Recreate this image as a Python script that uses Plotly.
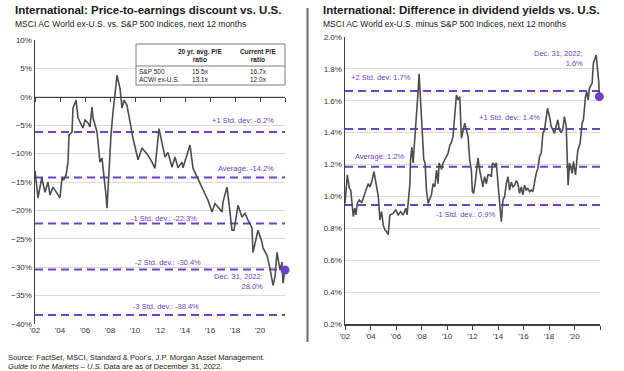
import plotly.graph_objects as go

# ---------------- data ----------------
tick_years = [2002, 2004, 2006, 2008, 2010, 2012, 2014, 2016, 2018, 2020, 2022]
tick_labels = ["'02", "'04", "'06", "'08", "'10", "'12", "'14", "'16", "'18", "'20", ""]

pe_x = [2002.0, 2002.14, 2002.24, 2002.54, 2002.8, 2003.04, 2003.2, 2003.44, 2003.76, 2004.0,
        2004.16, 2004.3, 2004.48, 2004.64, 2004.72, 2004.96, 2005.04, 2005.28, 2005.44, 2005.6,
        2005.84, 2006.0, 2006.24, 2006.4, 2006.56, 2006.64, 2006.96, 2007.04, 2007.2, 2007.36,
        2007.52, 2007.68, 2007.76, 2007.92, 2008.08, 2008.24, 2008.56, 2008.8, 2008.96, 2009.12,
        2009.36, 2009.6, 2009.84, 2010.16, 2010.24, 2010.56, 2010.8, 2011.04, 2011.36, 2011.6,
        2011.92, 2012.16, 2012.4, 2012.64, 2012.96, 2013.2, 2013.44, 2013.76, 2013.84, 2014.16,
        2014.4, 2014.64, 2014.96, 2015.2, 2015.44, 2015.84, 2016.16, 2016.4, 2016.64, 2016.96,
        2017.04, 2017.36, 2017.52, 2017.76, 2017.92, 2018.16, 2018.24, 2018.56, 2018.8, 2019.04,
        2019.36, 2019.44, 2019.68, 2019.84, 2020.16, 2020.24, 2020.56, 2020.8, 2021.04, 2021.2,
        2021.36, 2021.6, 2021.76, 2021.84, 2022.0]
pe_discount = [-13.0, -16.1, -17.8, -14.3, -16.8, -15.0, -17.3, -15.9, -17.0, -17.8,
               -14.3, -14.6, -13.8, -11.5, -6.7, -6.2, -2.0, -0.6, -3.7, -4.4,
               -5.5, -4.1, -4.6, -5.3, -1.8, -3.7, -6.2, -8.0, -11.5, -10.8,
               -13.8, -17.3, -19.6, -12.6, -6.7, -2.7, 3.8, 1.5, -2.0, -0.6,
               -1.5, -4.4, -7.3, -10.3, -11.1, -9.0, -9.7, -10.3, -11.5, -12.6,
               -5.6, -8.0, -10.6, -9.8, -12.4, -10.6, -12.5, -11.5, -12.5, -10.2,
               -8.5, -12.6, -14.1, -15.2, -16.4, -18.2, -20.3, -18.8, -19.4, -20.3,
               -18.5, -15.9, -18.8, -23.5, -23.5, -20.0, -19.1, -21.2, -20.5, -21.7,
               -23.1, -27.4, -24.7, -23.5, -25.6, -26.6, -27.9, -30.2, -33.2, -31.7,
               -27.4, -30.5, -29.1, -32.8, -30.5]
pe_levels = [-6.2, -14.2, -22.3, -30.4, -38.4]
pe_level_labels = ["+1 Std. dev: -6.2%", "Average: -14.2%", "-1 Std. dev.: -22.3%",
                   "-2 Std. dev.: -30.4%", "-3 Std. dev.: -38.4%"]
pe_label_x = [2018.64, 2018.9, 2012.3, 2012.6, 2012.5]
pe_label_y = [-4.1, -12.55, -21.4, -29.1, -37.0]
pe_last_x = [2022.0]
pe_last = [-30.5]
pe_last_text = "Dec. 31, 2022:<br>28.0%"

table_header = ["20 yr. avg. P/E<br>ratio", "Current P/E<br>ratio"]
table_rows = ["S&P 500", "ACWI ex-U.S."]
table_avg = ["15.5x", "13.1x"]
table_current = ["16.7x", "12.0x"]

dy_x = [2002.0, 2002.18, 2002.34, 2002.45, 2002.55, 2002.65, 2002.76, 2002.86, 2002.96, 2003.12,
        2003.31, 2003.43, 2003.56, 2003.70, 2003.82, 2003.96, 2004.09, 2004.27, 2004.43, 2004.61,
        2004.74, 2004.87, 2005.00, 2005.13, 2005.26, 2005.39, 2005.52, 2005.78, 2005.99, 2006.17,
        2006.36, 2006.56, 2006.77, 2006.87, 2006.95, 2007.09, 2007.14, 2007.24, 2007.34, 2007.48,
        2007.61, 2007.74, 2007.81, 2007.95, 2008.08, 2008.18, 2008.28, 2008.39, 2008.52, 2008.65,
        2008.78, 2008.91, 2009.04, 2009.18, 2009.30, 2009.38, 2009.57, 2009.69, 2009.82, 2009.96,
        2010.08, 2010.22, 2010.35, 2010.47, 2010.61, 2010.74, 2010.87, 2011.00, 2011.13, 2011.26,
        2011.39, 2011.52, 2011.65, 2011.78, 2011.91, 2011.99, 2012.09, 2012.20, 2012.31, 2012.43,
        2012.56, 2012.70, 2012.82, 2012.95, 2013.09, 2013.21, 2013.35, 2013.48, 2013.56, 2013.74,
        2013.87, 2014.00, 2014.13, 2014.26, 2014.39, 2014.52, 2014.65, 2014.78, 2014.91, 2015.04,
        2015.17, 2015.30, 2015.44, 2015.56, 2015.69, 2015.83, 2015.95, 2016.08, 2016.22, 2016.34,
        2016.48, 2016.61, 2016.73, 2016.87, 2017.00, 2017.13, 2017.26, 2017.39, 2017.52, 2017.65,
        2017.78, 2017.88, 2018.04, 2018.17, 2018.30, 2018.43, 2018.56, 2018.69, 2018.82, 2018.95,
        2019.08, 2019.21, 2019.35, 2019.40, 2019.50, 2019.61, 2019.82, 2019.92, 2020.08, 2020.26,
        2020.44, 2020.60, 2020.70, 2020.86, 2020.96, 2021.07, 2021.17, 2021.30, 2021.38, 2021.48,
        2021.58, 2021.70, 2021.80, 2021.90, 2021.95]
dy_diff = [0.957, 1.135, 1.05, 1.04, 0.957, 0.873, 0.926, 0.884, 0.957, 0.978,
           0.96, 0.99, 1.02, 1.05, 1.08, 1.06, 1.09, 1.155, 1.08, 1.0,
           0.853, 0.905, 0.82, 0.79, 0.78, 0.76, 0.884, 0.894, 0.915, 0.884,
           0.905, 0.884, 0.926, 0.884, 0.957, 1.08, 1.23, 1.31, 1.21, 1.354,
           1.50, 1.668, 1.77, 1.54, 1.375, 1.23, 1.21, 1.04, 0.957, 0.98,
           1.01, 1.08, 1.06, 1.166, 1.08, 1.21, 1.17, 1.21, 1.23, 1.26,
           1.27, 1.32, 1.34, 1.375, 1.52, 1.636, 1.605, 1.626, 1.365, 1.417,
           1.46, 1.417, 1.375, 1.23, 1.166, 1.03, 1.02, 1.08, 1.166, 1.24,
           1.166, 1.10, 1.06, 1.124, 1.08, 1.135, 1.135, 1.124, 1.21, 1.197,
           1.21, 1.08, 0.978, 0.842, 0.978, 1.0, 1.08, 1.124, 1.04, 1.09,
           1.06, 1.07, 1.10, 1.08, 1.02, 1.06, 1.01, 1.07, 1.04, 1.05,
           1.03, 1.04, 1.03, 1.10, 1.145, 1.177, 1.25, 1.27, 1.396, 1.417,
           1.52, 1.553, 1.50, 1.44, 1.417, 1.396, 1.44, 1.48, 1.417, 1.40,
           1.42, 1.50, 1.44, 1.27, 1.07, 1.21, 1.145, 1.218, 1.135, 1.29,
           1.333, 1.46, 1.48, 1.626, 1.657, 1.605, 1.678, 1.70, 1.71, 1.835,
           1.856, 1.887, 1.80, 1.72, 1.626]
dy_levels = [1.661, 1.423, 1.187, 0.947]
dy_level_labels = ["+2 Std. dev: 1.7%", "+1 Std. dev.: 1.4%", "Average: 1.2%", "-1 Std. dev.: 0.9%"]
dy_label_x = [2004.82, 2014.91, 2004.74, 2011.47]
dy_label_y = [1.743, 1.492, 1.248, 0.884]
dy_last_x = [2021.95]
dy_last = [1.626]
dy_last_text = "Dec. 31, 2022;<br>1.6%"

# ---------------- styling ----------------
W, H = 624, 371
FONT = "Liberation Sans"
PURPLE = "#7040C8"
LINE = "#4d4d4d"
GRID = "#d9d9d9"
AXIS = "#404040"
TXT = "#333333"

def px(x):
    return x / W

def py(y):
    return (H - y) / H

fig = go.Figure()

fig.add_trace(go.Scatter(x=pe_x, y=pe_discount, mode="lines", xaxis="x", yaxis="y",
                         line=dict(color=LINE, width=1.6), hoverinfo="skip"))
fig.add_trace(go.Scatter(x=pe_last_x, y=pe_last, mode="markers", xaxis="x3", yaxis="y",
                         marker=dict(color=PURPLE, size=9), hoverinfo="skip", cliponaxis=False))
fig.add_trace(go.Scatter(x=dy_x, y=dy_diff, mode="lines", xaxis="x2", yaxis="y2",
                         line=dict(color=LINE, width=1.6), hoverinfo="skip"))
fig.add_trace(go.Scatter(x=dy_last_x, y=dy_last, mode="markers", xaxis="x2", yaxis="y2",
                         marker=dict(color=PURPLE, size=9), hoverinfo="skip", cliponaxis=False))

shapes = []
annotations = []

for v in pe_levels:
    shapes.append(dict(type="line", xref="x domain", yref="y", x0=0, x1=1, y0=v, y1=v,
                       line=dict(color=PURPLE, width=2, dash="8px,5px"), layer="below"))
for v in dy_levels:
    shapes.append(dict(type="line", xref="x2 domain", yref="y2", x0=0, x1=1, y0=v, y1=v,
                       line=dict(color=PURPLE, width=2, dash="8px,5px"), layer="below"))

for t, x, y in zip(pe_level_labels, pe_label_x, pe_label_y):
    annotations.append(dict(text=t, x=x, y=y, xref="x", yref="y", showarrow=False,
                            font=dict(family=FONT, size=7.5, color=PURPLE), xanchor="center"))
for t, x, y in zip(dy_level_labels, dy_label_x, dy_label_y):
    annotations.append(dict(text=t, x=x, y=y, xref="x2", yref="y2", showarrow=False,
                            font=dict(family=FONT, size=7.5, color=PURPLE), xanchor="center"))
annotations.append(dict(text=pe_last_text, x=2020.4, y=-32.6, xref="x", yref="y", showarrow=False,
                        align="right", xanchor="right",
                        font=dict(family=FONT, size=7.5, color=PURPLE)))
annotations.append(dict(text=dy_last_text, x=2020.86, y=1.868, xref="x2", yref="y2", showarrow=False,
                        align="right", xanchor="right",
                        font=dict(family=FONT, size=7.5, color=PURPLE)))

# table
tx0, tx1, ty0, ty1, tmid = 136, 285, 44, 85, 66
shapes.append(dict(type="rect", xref="paper", yref="paper", x0=px(tx0), x1=px(tx1),
                   y0=py(ty1), y1=py(ty0), fillcolor="white",
                   line=dict(color="#7f7f7f", width=1), layer="above"))
shapes.append(dict(type="line", xref="paper", yref="paper", x0=px(tx0), x1=px(tx1),
                   y0=py(tmid), y1=py(tmid), line=dict(color="#7f7f7f", width=1), layer="above"))
col_x = [200, 258]
for t, cx in zip(table_header, col_x):
    annotations.append(dict(text="<b>" + t + "</b>", x=px(cx), y=py(56), xref="paper", yref="paper",
                            showarrow=False, font=dict(family=FONT, size=6.5, color="#222"),
                            align="center", xanchor="center", yanchor="middle"))
row_y = [71, 79.5]
for name, a, c, ry in zip(table_rows, table_avg, table_current, row_y):
    annotations.append(dict(text=name, x=px(137), y=py(ry), xref="paper", yref="paper",
                            showarrow=False, font=dict(family=FONT, size=6.5, color="#222"),
                            xanchor="left", yanchor="middle"))
    annotations.append(dict(text=a, x=px(col_x[0]), y=py(ry), xref="paper", yref="paper",
                            showarrow=False, font=dict(family=FONT, size=6.5, color="#222"),
                            xanchor="center", yanchor="middle"))
    annotations.append(dict(text=c, x=px(col_x[1]), y=py(ry), xref="paper", yref="paper",
                            showarrow=False, font=dict(family=FONT, size=6.5, color="#222"),
                            xanchor="center", yanchor="middle"))

# divider
shapes.append(dict(type="line", xref="paper", yref="paper", x0=px(307.5), x1=px(307.5),
                   y0=py(342), y1=py(8), line=dict(color="#6b6b6b", width=2)))

# titles
titles = [
    ("<b>International: Price-to-earnings discount vs. U.S.</b>", 13, 10.5, 11.5),
    ("MSCI AC World ex-U.S. vs. S&P 500 Indices, next 12 months", 13, 24.5, 8.5),
    ("<b>International: Difference in dividend yields vs. U.S.</b>", 321, 10.5, 11.5),
    ("MSCI AC World ex-U.S. minus S&P 500 Indices, next 12 months", 321, 24.5, 8.5),
    ("Source: FactSet, MSCI, Standard & Poor's, J.P. Morgan Asset Management.", 6, 357, 7.6),
    ("<i>Guide to the Markets – U.S.</i> Data are as of December 31, 2022.", 6, 366, 7.6),
]
for t, x, y, s in titles:
    annotations.append(dict(text=t, x=px(x), y=py(y), xref="paper", yref="paper", showarrow=False,
                            xanchor="left", yanchor="middle",
                            font=dict(family=FONT, size=s, color="#1a1a1a")))

tickfont = dict(family=FONT, size=8, color=TXT)
xr = [2002, 2022]

fig.update_layout(
    width=W, height=H, margin=dict(l=0, r=0, t=0, b=0, pad=0, autoexpand=False),
    paper_bgcolor="white", plot_bgcolor="white", showlegend=False,
    font=dict(family=FONT),
    shapes=shapes, annotations=annotations,
    xaxis=dict(domain=[px(35), px(285)], range=xr, tickvals=tick_years, ticktext=tick_labels,
               showgrid=False, zeroline=False, showline=False, ticks="", tickfont=tickfont,
               anchor="y", automargin=False),
    xaxis3=dict(overlaying="x", matches="x", anchor="free", position=py(96.7), range=xr,
                tickvals=tick_years, showticklabels=False, showgrid=False, zeroline=False,
                showline=True, linecolor=AXIS, linewidth=1, ticks="outside", ticklen=4,
                tickcolor=AXIS, tickwidth=1, automargin=False),
    yaxis=dict(domain=[py(324), py(40)], range=[-40, 10], dtick=5, ticksuffix="%",
               showgrid=True, gridcolor=GRID, gridwidth=1, zeroline=False,
               showline=True, linecolor=AXIS, linewidth=1.5, ticks="", tickfont=tickfont,
               anchor="x", automargin=False),
    xaxis2=dict(domain=[px(345), px(600)], range=xr, tickvals=tick_years, ticktext=tick_labels,
                showgrid=False, zeroline=False, showline=True, linecolor=AXIS, linewidth=1.5,
                ticks="outside", ticklen=4, tickcolor=AXIS, tickfont=tickfont, anchor="y2",
                automargin=False),
    yaxis2=dict(domain=[py(324), py(37)], range=[0.2, 2.0], dtick=0.2, tickformat=".1f",
                ticksuffix="%", showgrid=True, gridcolor=GRID, gridwidth=1, zeroline=False,
                showline=True, linecolor=AXIS, linewidth=1.5, ticks="", tickfont=tickfont,
                anchor="x2", automargin=False),
)

fig.write_html("out.html", config={"displayModeBar": False, "staticPlot": True},
               post_script="document.body.style.margin='0';document.body.style.padding='0';")
